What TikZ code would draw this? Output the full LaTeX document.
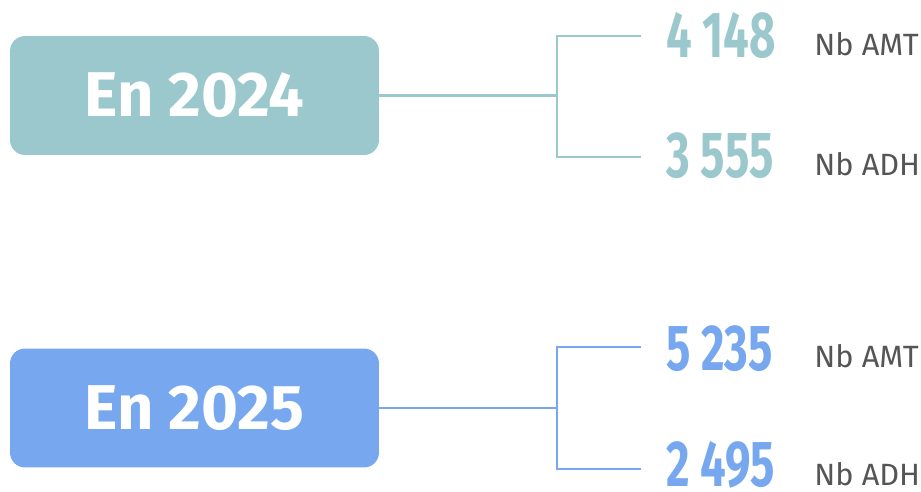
\documentclass[tikz,border=0pt]{standalone}
\usepackage{fontspec}
\setmainfont{Fira Sans}
\newfontfamily\numfont[FakeStretch=0.7]{Fira Sans}
\usepackage{xcolor}
\usetikzlibrary{positioning}
\definecolor{tealbox}{HTML}{9AC8CD}
\definecolor{bluebox}{HTML}{76A7EF}
\definecolor{labgray}{HTML}{555555}
\tikzset{yearbox/.style={rounded corners=0.3cm, minimum width=7.38cm, minimum height=2.38cm, text=white, font=\fontsize{36}{42}\selectfont\bfseries, inner sep=0pt},
    numtxt/.style={anchor=base west, inner sep=0pt, font=\numfont\fontsize{37}{44}\selectfont\bfseries},
    labtxt/.style={anchor=base west, inner sep=0pt, text=labgray, font=\fontsize{17.5}{21}\selectfont},
    branch/.style={line width=1.2pt}}

\begin{document}
\begin{tikzpicture}[x=0.02cm, y=-0.02cm]
    \useasboundingbox (0, 0) rectangle (921, 491);

    % 2024
    \node[yearbox, fill=tealbox] (b24) at (194.5, 95.5) {En 2024};
    \coordinate (j24) at (557, 95.5);
    \coordinate (e24a) at (641, 36);
    \coordinate (e24b) at (641, 157);
    \node[numtxt, text=tealbox] (n24a) at (666, 57) {4 148};
    \node[numtxt, text=tealbox] (n24b) at (666, 177) {3 555};
    \node[labtxt] (l24a) at (814, 55) {Nb AMT};
    \node[labtxt] (l24b) at (814, 175) {Nb ADH};
    \draw[branch, tealbox] (b24.east) -- (j24);
    \draw[branch, tealbox] (e24a) -| (j24) |- (e24b);

    % 2025
    \node[yearbox, fill=bluebox] (b25) at (194.5, 408) {En 2025};
    \coordinate (j25) at (557, 408);
    \coordinate (e25a) at (641, 347);
    \coordinate (e25b) at (641, 469);
    \node[numtxt, text=bluebox] (n25a) at (666, 370) {5 235};
    \node[numtxt, text=bluebox] (n25b) at (666, 486) {2 495};
    \node[labtxt] (l25a) at (814, 367) {Nb AMT};
    \node[labtxt] (l25b) at (814, 485) {Nb ADH};
    \draw[branch, bluebox] (b25.east) -- (j25);
    \draw[branch, bluebox] (e25a) -| (j25) |- (e25b);
\end{tikzpicture}
\end{document}
